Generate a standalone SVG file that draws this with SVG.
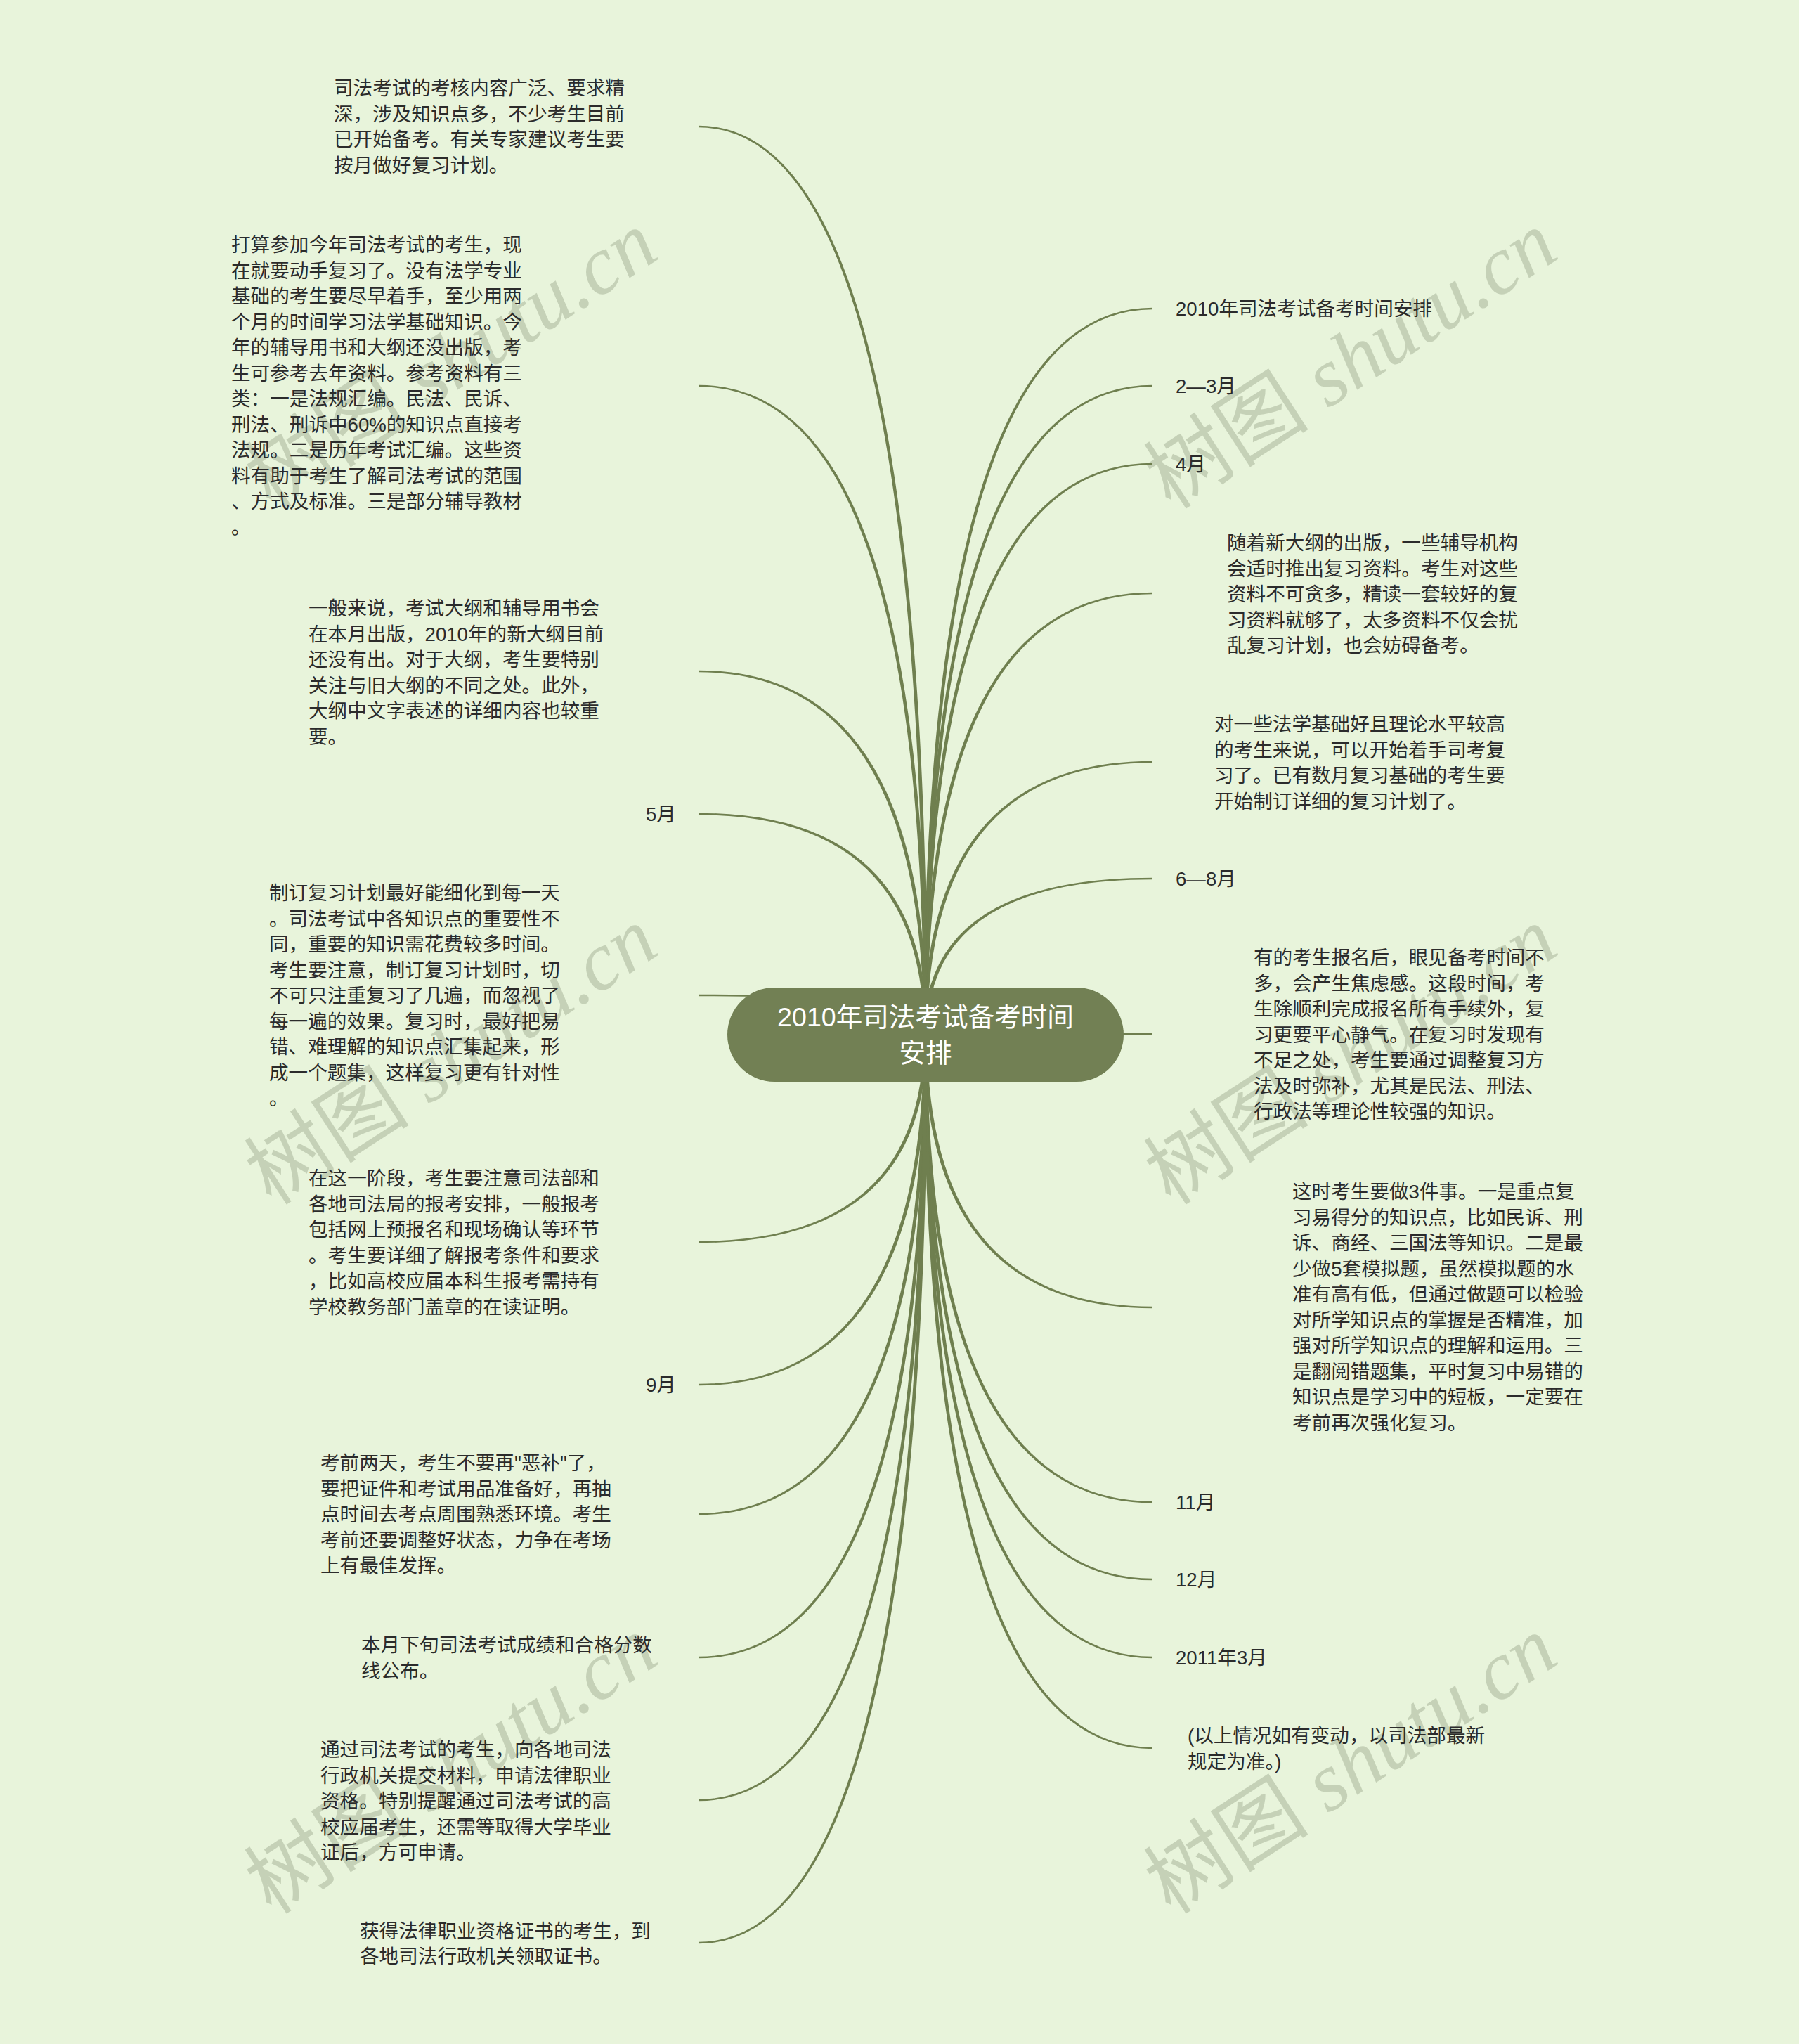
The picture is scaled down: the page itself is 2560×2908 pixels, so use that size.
<svg xmlns="http://www.w3.org/2000/svg" width="2560" height="2908" viewBox="0 0 2560 2908">
<style>
.t{font-family:"Liberation Sans","Noto Sans CJK SC",sans-serif;font-size:27.6px;fill:#2b2b2b}
.c{fill:#6f7f4f;stroke:none}
.root{fill:#728054}
.rt{font-family:"Liberation Sans","Noto Sans CJK SC",sans-serif;font-size:37.6px;fill:#ffffff;text-anchor:middle}
.wm{font-family:"Liberation Serif","Noto Sans CJK SC",serif;font-size:118px;fill:#b9c6ab;fill-opacity:0.75;text-anchor:middle}
</style>
<rect x="0" y="0" width="2560" height="2908" fill="#e8f4db"/>
<g id="watermark">
<text class="wm" x="644" y="552" transform="rotate(-33 644 515)">树图 <tspan font-style="italic">shutu.cn</tspan></text>
<text class="wm" x="1924" y="552" transform="rotate(-33 1924 515)">树图 <tspan font-style="italic">shutu.cn</tspan></text>
<text class="wm" x="644" y="1542" transform="rotate(-33 644 1505)">树图 <tspan font-style="italic">shutu.cn</tspan></text>
<text class="wm" x="1924" y="1542" transform="rotate(-33 1924 1505)">树图 <tspan font-style="italic">shutu.cn</tspan></text>
<text class="wm" x="644" y="2551" transform="rotate(-33 644 2514)">树图 <tspan font-style="italic">shutu.cn</tspan></text>
<text class="wm" x="1924" y="2551" transform="rotate(-33 1924 2514)">树图 <tspan font-style="italic">shutu.cn</tspan></text>
</g>
<g id="connectors">
<path class="c" d="M1314.5 1472Q1314.5 437.75 1640 437.75L1640 440.25Q1319.5 440.25 1319.5 1472Z"/>
<path class="c" d="M1314.5 1472Q1314.5 547.75 1640 547.75L1640 550.25Q1319.5 550.25 1319.5 1472Z"/>
<path class="c" d="M1314.5 1472Q1314.5 658.75 1640 658.75L1640 661.25Q1319.5 661.25 1319.5 1472Z"/>
<path class="c" d="M1314.5 1472Q1314.5 842.75 1640 842.75L1640 845.25Q1319.5 845.25 1319.5 1472Z"/>
<path class="c" d="M1314.5 1472Q1314.5 1082.75 1640 1082.75L1640 1085.25Q1319.5 1085.25 1319.5 1472Z"/>
<path class="c" d="M1314.5 1472Q1314.5 1248.75 1640 1248.75L1640 1251.25Q1319.5 1251.25 1319.5 1472Z"/>
<path class="c" d="M1317 1469.5L1640 1469.75L1640 1472.25L1317 1472.5Z"/>
<path class="c" d="M1314.5 1472Q1314.5 1861.25 1640 1861.25L1640 1858.75Q1319.5 1858.75 1319.5 1472Z"/>
<path class="c" d="M1314.5 1472Q1314.5 2138.25 1640 2138.25L1640 2135.75Q1319.5 2135.75 1319.5 1472Z"/>
<path class="c" d="M1314.5 1472Q1314.5 2248.25 1640 2248.25L1640 2245.75Q1319.5 2245.75 1319.5 1472Z"/>
<path class="c" d="M1314.5 1472Q1314.5 2359.25 1640 2359.25L1640 2356.75Q1319.5 2356.75 1319.5 1472Z"/>
<path class="c" d="M1314.5 1472Q1314.5 2488.25 1640 2488.25L1640 2485.75Q1319.5 2485.75 1319.5 1472Z"/>
<path class="c" d="M1319.5 1472Q1319.5 178.75 994 178.75L994 181.25Q1314.5 181.25 1314.5 1472Z"/>
<path class="c" d="M1319.5 1472Q1319.5 547.75 994 547.75L994 550.25Q1314.5 550.25 1314.5 1472Z"/>
<path class="c" d="M1319.5 1472Q1319.5 953.75 994 953.75L994 956.25Q1314.5 956.25 1314.5 1472Z"/>
<path class="c" d="M1319.5 1472Q1319.5 1156.75 994 1156.75L994 1159.25Q1314.5 1159.25 1314.5 1472Z"/>
<path class="c" d="M1319.5 1472Q1319.5 1414.75 994 1414.75L994 1417.25Q1314.5 1417.25 1314.5 1472Z"/>
<path class="c" d="M1319.5 1472Q1319.5 1768.25 994 1768.25L994 1765.75Q1314.5 1765.75 1314.5 1472Z"/>
<path class="c" d="M1319.5 1472Q1319.5 1971.25 994 1971.25L994 1968.75Q1314.5 1968.75 1314.5 1472Z"/>
<path class="c" d="M1319.5 1472Q1319.5 2155.25 994 2155.25L994 2152.75Q1314.5 2152.75 1314.5 1472Z"/>
<path class="c" d="M1319.5 1472Q1319.5 2359.25 994 2359.25L994 2356.75Q1314.5 2356.75 1314.5 1472Z"/>
<path class="c" d="M1319.5 1472Q1319.5 2562.25 994 2562.25L994 2559.75Q1314.5 2559.75 1314.5 1472Z"/>
<path class="c" d="M1319.5 1472Q1319.5 2765.25 994 2765.25L994 2762.75Q1314.5 2762.75 1314.5 1472Z"/>
</g>
<g id="root">
<rect class="root" x="1035" y="1405" width="564" height="134" rx="67" ry="67"/>
<text class="rt" x="1317" y="1460">2010年司法考试备考时间<tspan x="1317" y="1511">安排</tspan></text>
</g>
<g id="n-l1"><text class="t" x="475" y="135">司法考试的考核内容广泛、要求精<tspan x="475" y="171.5">深，涉及知识点多，不少考生目前</tspan><tspan x="475" y="208">已开始备考。有关专家建议考生要</tspan><tspan x="475" y="244.5">按月做好复习计划。</tspan></text></g>
<g id="n-l2"><text class="t" x="329" y="358">打算参加今年司法考试的考生，现<tspan x="329" y="394.5">在就要动手复习了。没有法学专业</tspan><tspan x="329" y="431">基础的考生要尽早着手，至少用两</tspan><tspan x="329" y="467.5">个月的时间学习法学基础知识。今</tspan><tspan x="329" y="504">年的辅导用书和大纲还没出版，考</tspan><tspan x="329" y="540.5">生可参考去年资料。参考资料有三</tspan><tspan x="329" y="577">类：一是法规汇编。民法、民诉、</tspan><tspan x="329" y="613.5">刑法、刑诉中60%的知识点直接考</tspan><tspan x="329" y="650">法规。二是历年考试汇编。这些资</tspan><tspan x="329" y="686.5">料有助于考生了解司法考试的范围</tspan><tspan x="329" y="723">、方式及标准。三是部分辅导教材</tspan><tspan x="329" y="759.5">。</tspan></text></g>
<g id="n-l3"><text class="t" x="439" y="875">一般来说，考试大纲和辅导用书会<tspan x="439" y="911.5">在本月出版，2010年的新大纲目前</tspan><tspan x="439" y="948">还没有出。对于大纲，考生要特别</tspan><tspan x="439" y="984.5">关注与旧大纲的不同之处。此外，</tspan><tspan x="439" y="1021">大纲中文字表述的详细内容也较重</tspan><tspan x="439" y="1057.5">要。</tspan></text></g>
<g id="n-l4"><text class="t" x="919" y="1168">5月</text></g>
<g id="n-l5"><text class="t" x="383" y="1280">制订复习计划最好能细化到每一天<tspan x="383" y="1316.5">。司法考试中各知识点的重要性不</tspan><tspan x="383" y="1353">同，重要的知识需花费较多时间。</tspan><tspan x="383" y="1389.5">考生要注意，制订复习计划时，切</tspan><tspan x="383" y="1426">不可只注重复习了几遍，而忽视了</tspan><tspan x="383" y="1462.5">每一遍的效果。复习时，最好把易</tspan><tspan x="383" y="1499">错、难理解的知识点汇集起来，形</tspan><tspan x="383" y="1535.5">成一个题集，这样复习更有针对性</tspan><tspan x="383" y="1572">。</tspan></text></g>
<g id="n-l6"><text class="t" x="439" y="1686">在这一阶段，考生要注意司法部和<tspan x="439" y="1722.5">各地司法局的报考安排，一般报考</tspan><tspan x="439" y="1759">包括网上预报名和现场确认等环节</tspan><tspan x="439" y="1795.5">。考生要详细了解报考条件和要求</tspan><tspan x="439" y="1832">，比如高校应届本科生报考需持有</tspan><tspan x="439" y="1868.5">学校教务部门盖章的在读证明。</tspan></text></g>
<g id="n-l7"><text class="t" x="919" y="1980">9月</text></g>
<g id="n-l8"><text class="t" x="456" y="2091">考前两天，考生不要再"恶补"了，<tspan x="456" y="2127.5">要把证件和考试用品准备好，再抽</tspan><tspan x="456" y="2164">点时间去考点周围熟悉环境。考生</tspan><tspan x="456" y="2200.5">考前还要调整好状态，力争在考场</tspan><tspan x="456" y="2237">上有最佳发挥。</tspan></text></g>
<g id="n-l9"><text class="t" x="514" y="2350">本月下旬司法考试成绩和合格分数<tspan x="514" y="2386.5">线公布。</tspan></text></g>
<g id="n-l10"><text class="t" x="456" y="2499">通过司法考试的考生，向各地司法<tspan x="456" y="2535.5">行政机关提交材料，申请法律职业</tspan><tspan x="456" y="2572">资格。特别提醒通过司法考试的高</tspan><tspan x="456" y="2608.5">校应届考生，还需等取得大学毕业</tspan><tspan x="456" y="2645">证后，方可申请。</tspan></text></g>
<g id="n-l11"><text class="t" x="512" y="2756.5">获得法律职业资格证书的考生，到<tspan x="512" y="2793">各地司法行政机关领取证书。</tspan></text></g>
<g id="n-r1"><text class="t" x="1673" y="449">2010年司法考试备考时间安排</text></g>
<g id="n-r2"><text class="t" x="1673" y="559">2—3月</text></g>
<g id="n-r3"><text class="t" x="1673" y="670">4月</text></g>
<g id="n-r4"><text class="t" x="1746" y="782">随着新大纲的出版，一些辅导机构<tspan x="1746" y="818.5">会适时推出复习资料。考生对这些</tspan><tspan x="1746" y="855">资料不可贪多，精读一套较好的复</tspan><tspan x="1746" y="891.5">习资料就够了，太多资料不仅会扰</tspan><tspan x="1746" y="928">乱复习计划，也会妨碍备考。</tspan></text></g>
<g id="n-r5"><text class="t" x="1728" y="1040">对一些法学基础好且理论水平较高<tspan x="1728" y="1076.5">的考生来说，可以开始着手司考复</tspan><tspan x="1728" y="1113">习了。已有数月复习基础的考生要</tspan><tspan x="1728" y="1149.5">开始制订详细的复习计划了。</tspan></text></g>
<g id="n-r6"><text class="t" x="1673" y="1260">6—8月</text></g>
<g id="n-r7"><text class="t" x="1784" y="1372">有的考生报名后，眼见备考时间不<tspan x="1784" y="1408.5">多，会产生焦虑感。这段时间，考</tspan><tspan x="1784" y="1445">生除顺利完成报名所有手续外，复</tspan><tspan x="1784" y="1481.5">习更要平心静气。在复习时发现有</tspan><tspan x="1784" y="1518">不足之处，考生要通过调整复习方</tspan><tspan x="1784" y="1554.5">法及时弥补，尤其是民法、刑法、</tspan><tspan x="1784" y="1591">行政法等理论性较强的知识。</tspan></text></g>
<g id="n-r8"><text class="t" x="1839" y="1705">这时考生要做3件事。一是重点复<tspan x="1839" y="1741.5">习易得分的知识点，比如民诉、刑</tspan><tspan x="1839" y="1778">诉、商经、三国法等知识。二是最</tspan><tspan x="1839" y="1814.5">少做5套模拟题，虽然模拟题的水</tspan><tspan x="1839" y="1851">准有高有低，但通过做题可以检验</tspan><tspan x="1839" y="1887.5">对所学知识点的掌握是否精准，加</tspan><tspan x="1839" y="1924">强对所学知识点的理解和运用。三</tspan><tspan x="1839" y="1960.5">是翻阅错题集，平时复习中易错的</tspan><tspan x="1839" y="1997">知识点是学习中的短板，一定要在</tspan><tspan x="1839" y="2033.5">考前再次强化复习。</tspan></text></g>
<g id="n-r9"><text class="t" x="1673" y="2147">11月</text></g>
<g id="n-r10"><text class="t" x="1673" y="2257">12月</text></g>
<g id="n-r11"><text class="t" x="1673" y="2368">2011年3月</text></g>
<g id="n-r12"><text class="t" x="1690" y="2479">(以上情况如有变动，以司法部最新<tspan x="1690" y="2515.5">规定为准。)</tspan></text></g>
</svg>
